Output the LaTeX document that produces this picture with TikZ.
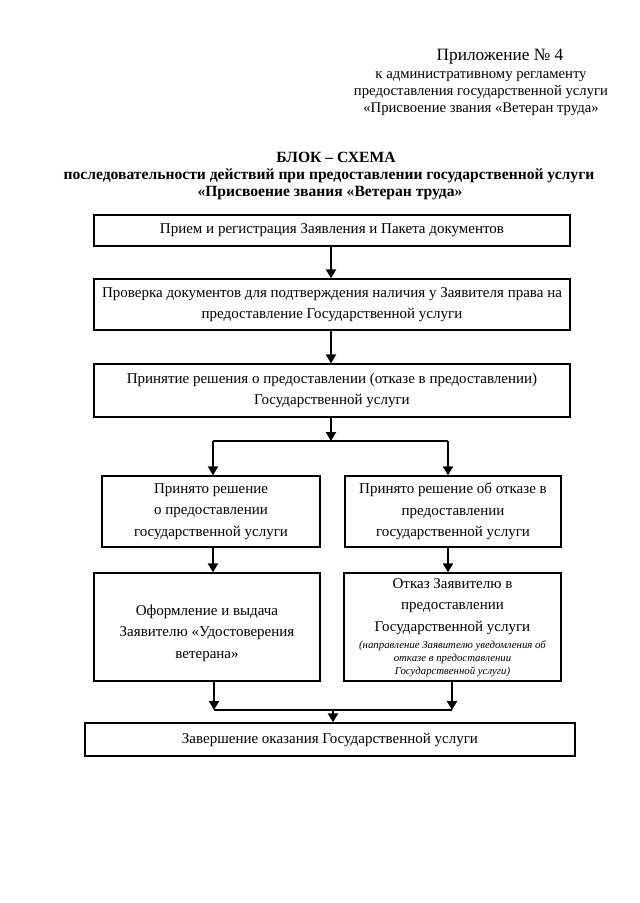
\documentclass[tikz,border=0pt]{standalone}
\usepackage{fontspec}
\setmainfont{Liberation Serif}
\usetikzlibrary{arrows.meta}
\begin{document}
\begin{tikzpicture}[x=1pt,y=-1pt,
  box/.style={draw, line width=1.3pt, inner sep=0pt, align=center,
    font=\fontsize{15}{21.5}\selectfont},
  arr/.style={line width=2.1pt, -{Triangle[width=10pt,length=9pt]}},
  ln/.style={line width=2.1pt},
  hdr/.style={inner sep=0pt, anchor=base, font=\fontsize{14.7}{17}\selectfont},
  ttl/.style={inner sep=0pt, anchor=base, font=\fontsize{15.6}{17}\selectfont\bfseries},
  txt/.style={inner sep=0pt, align=center, font=\fontsize{15}{21.5}\selectfont},
  itl/.style={inner sep=0pt, align=center, font=\fontsize{10.8}{13}\selectfont\itshape}]
\path[use as bounding box, fill=white] (0,0) rectangle (640,903);

% header
\node[hdr, font=\fontsize{17.3}{19}\selectfont] (h1) at (500,60) {Приложение № 4};
\node[hdr] (h2) at (481,78) {к административному регламенту};
\node[hdr] (h3) at (481,95) {предоставления государственной услуги};
\node[hdr] (h4) at (481,112) {«Присвоение звания «Ветеран труда»};

% title
\node[ttl] (t1) at (336,162) {БЛОК – СХЕМА};
\node[ttl] (t2) at (329,179) {последовательности действий при предоставлении государственной услуги};
\node[ttl] (t3) at (330,196) {«Присвоение звания «Ветеран труда»};

% boxes
\node[box, minimum width=476pt, minimum height=31pt] (B1) at (332,230.5)
  {Прием и регистрация Заявления и Пакета документов};
\node[box, minimum width=476pt, minimum height=51pt] (B2) at (332,304.5)
  {Проверка документов для подтверждения наличия у Заявителя права на\\предоставление Государственной услуги};
\node[box, minimum width=476pt, minimum height=53pt] (B3) at (332,390.5)
  {Принятие решения о предоставлении (отказе в предоставлении)\\Государственной услуги};
\node[box, minimum width=218pt, minimum height=71pt] (B4) at (211,511.5)
  {Принято решение\\о предоставлении\\государственной услуги};
\node[box, minimum width=216pt, minimum height=71pt] (B5) at (453,511.5)
  {Принято решение об отказе в\\предоставлении\\государственной услуги};
\node[box, minimum width=226pt, minimum height=108pt] (B6) at (207,627) {};
\node[txt] (B6t) at (207,633) {Оформление и выдача\\Заявителю «Удостоверения\\ветерана»};
\node[box, minimum width=217pt, minimum height=108pt] (B7) at (452.5,627) {};
\node[txt] (B7t) at (452.5,606.5) {Отказ Заявителю в\\предоставлении\\Государственной услуги};
\node[itl] (B7i) at (452.5,659) {(направление Заявителю уведомления об\\отказе в предоставлении\\Государственной услуги)};
\node[box, minimum width=490pt, minimum height=33pt] (B8) at (330,739.5)
  {Завершение оказания Государственной услуги};

% connectors
\coordinate (c1) at (331,0);
\draw[arr] (B1.south -| c1) -- (B2.north -| c1);
\draw[arr] (B2.south -| c1) -- (B3.north -| c1);
\coordinate (j) at (331,441);
\coordinate (jl) at (213,441);
\coordinate (jr) at (448,441);
\draw[arr] (B3.south -| c1) -- (j);
\draw[ln] (jl) -- (jr);
\draw[arr] (jl) -- (B4.north -| jl);
\draw[arr] (jr) -- (B5.north -| jr);
\draw[arr] (B4.south -| jl) -- (B6.north -| jl);
\draw[arr] (B5.south -| jr) -- (B7.north -| jr);
\coordinate (bl) at (214,710);
\coordinate (br) at (452,710);
\coordinate (bc) at (333,710);
\draw[arr] (B6.south -| bl) -- (bl);
\draw[arr] (B7.south -| br) -- (br);
\draw[ln] (bl) -- (br);
\draw[arr] (bc) -- (B8.north -| bc);
\end{tikzpicture}
\end{document}
